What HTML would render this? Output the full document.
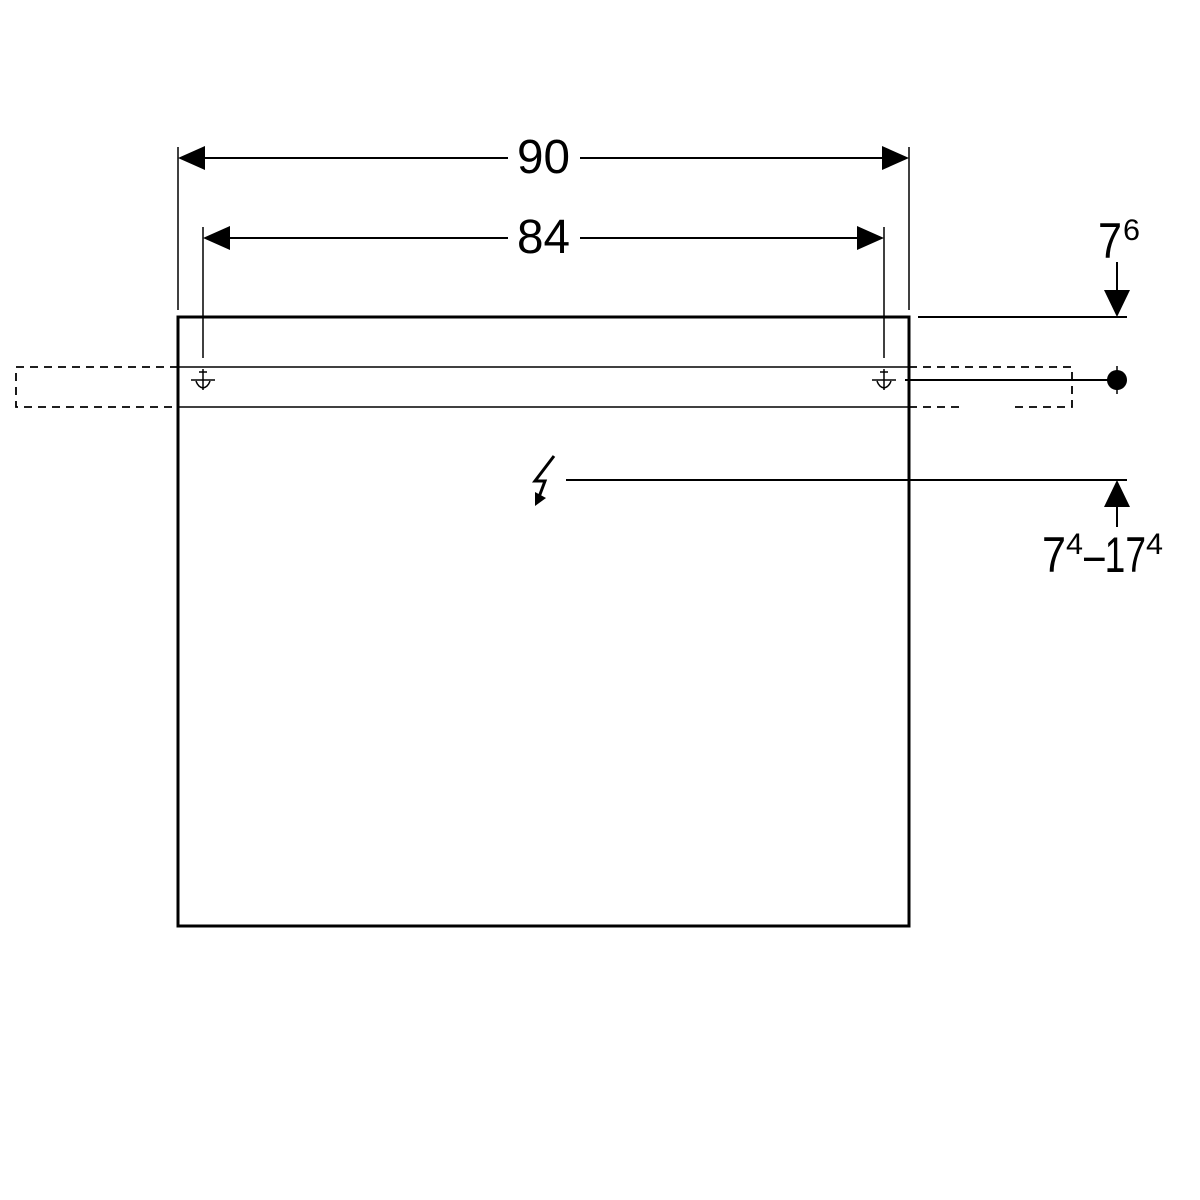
<!DOCTYPE html>
<html><head><meta charset="utf-8"><style>html,body{margin:0;padding:0;background:#fff}svg{display:block}</style></head>
<body>
<svg width="1200" height="1200" viewBox="0 0 1200 1200" xmlns="http://www.w3.org/2000/svg" font-family="Liberation Sans, sans-serif">
<g stroke="#000" fill="none">
<rect x="178" y="317" width="731" height="609" stroke-width="3"/>
<line x1="178" y1="367" x2="909" y2="367" stroke-width="1.5"/>
<line x1="178" y1="407" x2="909" y2="407" stroke-width="1.5"/>
<g stroke-dasharray="8,6" stroke-width="1.8">
<path d="M178 367 H16 V407 H178"/>
<path d="M909 367 H1072 V407 H1012"/>
<path d="M909 407 H965"/>
</g>
<line x1="178" y1="147" x2="178" y2="310" stroke-width="1.5"/>
<line x1="909" y1="147" x2="909" y2="310" stroke-width="1.5"/>
<line x1="203" y1="227" x2="203" y2="358" stroke-width="1.5"/>
<line x1="884" y1="227" x2="884" y2="358" stroke-width="1.5"/>
<line x1="205" y1="158" x2="508" y2="158" stroke-width="2"/>
<line x1="580" y1="158" x2="882" y2="158" stroke-width="2"/>
<line x1="230" y1="238" x2="508" y2="238" stroke-width="2"/>
<line x1="580" y1="238" x2="858" y2="238" stroke-width="2"/>
<line x1="918" y1="317" x2="1127" y2="317" stroke-width="2"/>
<line x1="905" y1="380" x2="1117" y2="380" stroke-width="2"/>
<line x1="566" y1="480" x2="1127" y2="480" stroke-width="2"/>
<line x1="1117" y1="262" x2="1117" y2="292" stroke-width="2"/>
<line x1="1117" y1="505" x2="1117" y2="527" stroke-width="2"/>
<line x1="1117" y1="366" x2="1117" y2="394" stroke-width="1.5"/>
<g stroke-width="1.5">
<line x1="203" y1="369" x2="203" y2="390"/><line x1="191" y1="380" x2="215" y2="380"/><line x1="199" y1="372" x2="207" y2="372"/>
<path d="M196 381 Q198 387 203 388 Q208 387 210 381"/>
<line x1="884" y1="369" x2="884" y2="390"/><line x1="872" y1="380" x2="896" y2="380"/><line x1="880" y1="372" x2="888" y2="372"/>
<path d="M877 381 Q879 387 884 388 Q889 387 891 381"/>
</g>
<path d="M554 456 L535 481 L545 481 L539 497" stroke-width="3" stroke-linejoin="miter"/>
</g>
<g fill="#000">
<polygon points="178,158 205,146 205,170"/>
<polygon points="909,158 882,146 882,170"/>
<polygon points="203,238 230,226 230,250"/>
<polygon points="884,238 857,226 857,250"/>
<polygon points="1117,317 1104,290 1130,290"/>
<polygon points="1117,480 1104,507 1130,507"/>
<circle cx="1117" cy="380" r="10"/>
<polygon points="535,506 535,492 546,498"/>
</g>
<g font-size="48" fill="#000">
<text x="517" y="173" textLength="53" lengthAdjust="spacingAndGlyphs">90</text>
<text x="517" y="253" textLength="53" lengthAdjust="spacingAndGlyphs">84</text>
</g>
<text x="1098" y="258" font-size="50" textLength="24" lengthAdjust="spacingAndGlyphs">7</text>
<text x="1123" y="240" font-size="30" textLength="17" lengthAdjust="spacingAndGlyphs">6</text>
<text x="1042" y="572" font-size="50" textLength="24" lengthAdjust="spacingAndGlyphs">7</text>
<text x="1066" y="554" font-size="30" textLength="17" lengthAdjust="spacingAndGlyphs">4</text>
<text x="1084" y="572" font-size="50" textLength="62" lengthAdjust="spacingAndGlyphs">–17</text>
<text x="1146" y="554" font-size="30" textLength="17" lengthAdjust="spacingAndGlyphs">4</text>
</svg>
</body></html>
